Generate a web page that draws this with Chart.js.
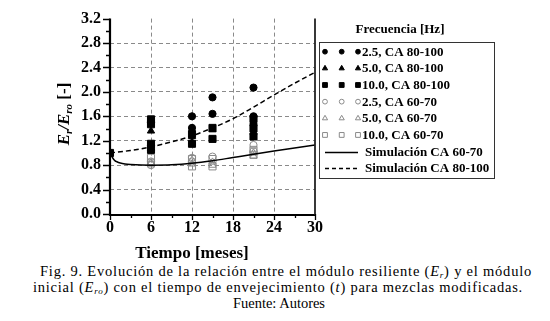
<!DOCTYPE html>
<html><head><meta charset="utf-8">
<script src="https://cdn.jsdelivr.net/npm/chart.js@4.4.0/dist/chart.umd.min.js"></script>
<style>
html,body{margin:0;padding:0;background:#fff;}
#wrap{position:relative;width:550px;height:321px;overflow:hidden;background:#fff;}
#cv{position:absolute;left:0;top:0;}
.cap{position:absolute;white-space:nowrap;font-family:"Liberation Serif",serif;font-size:14.5px;color:#000;line-height:16px;}
.sb{font-size:9px;position:relative;top:2px;}
</style></head><body>
<div id="wrap">
<canvas id="cv" width="550" height="262"></canvas>
<div class="cap" id="cap1" data-w="492" style="left:40px;top:263px;">Fig. 9. Evolución de la relación entre el módulo resiliente (<i>E</i><span class="sb"><i>r</i></span>) y el módulo</div>
<div class="cap" id="cap2" data-w="490" style="left:33px;top:279px;">inicial (<i>E</i><span class="sb"><i>ro</i></span>) con el tiempo de envejecimiento (<i>t</i>) para mezclas modificadas.</div>
<div class="cap" id="cap3" data-w="92" style="left:233px;top:295px;">Fuente: Autores</div>
</div>
<script>
// ---- DATA ----
const xTicks = [0, 6, 12, 18, 24, 30];
const yTicks = [0.0, 0.4, 0.8, 1.2, 1.6, 2.0, 2.4, 2.8, 3.2];
const seriesNames = ["2.5, CA 80-100", "5.0, CA 80-100", "10.0, CA 80-100",
                     "2.5, CA 60-70", "5.0, CA 60-70", "10.0, CA 60-70",
                     "Simulación CA 60-70", "Simulación CA 80-100"];
const f25_80100 = [[0,1.00],[6,1.50],[6,1.12],[12,1.60],[12,1.41],[15,1.91],[15,1.64],[21,2.07],[21,1.60],[21,1.46]];
const f50_80100 = [[0,1.00],[6,1.36],[6,1.08],[12,1.27],[12,1.18],[15,1.38],[21,1.52],[21,1.34]];
const f10_80100 = [[0,1.00],[6,1.55],[6,1.47],[6,1.15],[6,1.05],[12,1.31],[12,1.15],[15,1.41],[15,1.23],[21,1.56],[21,1.40],[21,1.27]];
const f25_6070 = [[6,0.86],[6,0.80],[12,0.92],[12,0.86],[15,0.94],[21,1.13],[21,1.03]];
const f50_6070 = [[6,0.84],[12,0.88],[12,0.82],[15,0.85],[15,0.80],[21,1.00],[21,0.95]];
const f10_6070 = [[6,0.92],[6,0.83],[12,0.90],[12,0.78],[15,0.90],[15,0.78],[21,1.05],[21,0.97]];
const simT6070 = [0, 0.5, 0.75, 1, 1.5, 2.2, 3, 6, 9, 12, 15, 18, 21, 24, 27, 30];
const sim6070  = [1.00, 0.90, 0.87, 0.855, 0.835, 0.82, 0.812, 0.80, 0.805, 0.83, 0.872, 0.925, 0.978, 1.03, 1.08, 1.13];
const simT80100 = [0, 3, 6, 9, 12, 15, 18, 21, 24, 27, 30];
const sim80100  = [1.00, 1.04, 1.10, 1.18, 1.28, 1.41, 1.56, 1.75, 1.95, 2.14, 2.32];

// ---- BUILD ----
const toXY = a => a.map(p => ({x: p[0], y: p[1]}));
const zip = (t, v) => t.map((x, i) => ({x, y: v[i]}));
const GRAY = '#8a8a8a';
const TR = 'rgba(0,0,0,0)';
const SERIF = '"Liberation Serif", "Times New Roman", serif';

const ptSets = [
  {d: f25_80100, style: 'circle', r: 3.6, fill: '#000', stroke: '#000'},
  {d: f50_80100, style: 'triangle', r: 4.2, fill: '#000', stroke: '#000'},
  {d: f10_80100, style: 'rect', r: 5, fill: '#000', stroke: '#000'},
  {d: f25_6070, style: 'circle', r: 3.6, fill: TR, stroke: GRAY},
  {d: f50_6070, style: 'triangle', r: 4.2, fill: TR, stroke: GRAY},
  {d: f10_6070, style: 'rect', r: 5, fill: TR, stroke: GRAY}
];
const datasets = ptSets.map((s, i) => ({
  type: 'scatter', label: seriesNames[i], data: toXY(s.d), showLine: false,
  pointStyle: s.style, pointRadius: s.r, pointHoverRadius: s.r,
  backgroundColor: s.fill, borderColor: s.stroke, pointBorderWidth: 1, order: 2
}));
datasets.push({type: 'line', label: seriesNames[6], data: zip(simT6070, sim6070),
  borderColor: '#000', borderWidth: 1.5, pointRadius: 0, cubicInterpolationMode: 'monotone', fill: false, order: 1});
datasets.push({type: 'line', label: seriesNames[7], data: zip(simT80100, sim80100),
  borderColor: '#000', borderWidth: 1.5, borderDash: [5, 3], pointRadius: 0, cubicInterpolationMode: 'monotone', fill: false, order: 1});

const near = (a, b) => Math.abs(a - b) < 1e-6;

function drawMarker(ctx, style, r, x, y) {
  if (Chart.helpers && Chart.helpers.drawPoint) {
    Chart.helpers.drawPoint(ctx, {pointStyle: style, radius: r, rotation: 0, borderWidth: 1}, x, y);
    return;
  }
  ctx.beginPath(); ctx.arc(x, y, r, 0, 2 * Math.PI); ctx.fill(); ctx.stroke();
}

const decor = {
  id: 'decor',
  afterDraw(chart) {
    const ctx = chart.ctx, a = chart.chartArea;
    const xs = chart.scales.x, ys = chart.scales.y;
    ctx.save();
    // axes
    ctx.strokeStyle = '#000'; ctx.lineWidth = 2.2; ctx.setLineDash([]);
    ctx.beginPath(); ctx.moveTo(a.left, a.top); ctx.lineTo(a.left, a.bottom + 1); ctx.lineTo(a.right, a.bottom + 1); ctx.stroke();
    ctx.lineWidth = 1.8; ctx.strokeStyle = '#222';
    ctx.beginPath(); ctx.moveTo(a.right, a.top); ctx.lineTo(a.right, a.bottom + 1); ctx.stroke();
    // ticks
    ctx.lineWidth = 1.3; ctx.strokeStyle = '#000';
    ctx.beginPath();
    for (let v = 0; v <= 3.2001; v += 0.2) {
      const y = Math.round(ys.getPixelForValue(v)) + 0.5;
      const major = Math.abs(v / 0.4 - Math.round(v / 0.4)) < 1e-6;
      ctx.moveTo(a.left - (major ? 7 : 4), y); ctx.lineTo(a.left, y);
    }
    for (let t = 0; t <= 30; t += 3) {
      const x = Math.round(xs.getPixelForValue(t)) + 0.5;
      const major = t % 6 === 0;
      ctx.moveTo(x, a.bottom); ctx.lineTo(x, a.bottom + (major ? 6 : 4));
    }
    ctx.stroke();
    // x title
    ctx.fillStyle = '#000';
    ctx.font = 'bold 17px ' + SERIF; ctx.textAlign = 'center'; ctx.textBaseline = 'middle';
    ctx.fillText('Tiempo [meses]', 192, 254);
    // y title
    const segs = [['E', 'italic bold 17px ' + SERIF, 5], ['r', 'italic bold 11px ' + SERIF, 8],
                  ['/E', 'italic bold 17px ' + SERIF, 5], ['ro', 'italic bold 11px ' + SERIF, 8],
                  [' [-]', 'bold 17px ' + SERIF, 5]];
    let tot = 0; segs.forEach(s => { ctx.font = s[1]; s.w = ctx.measureText(s[0]).width; tot += s.w; });
    ctx.save(); ctx.translate(64, 114); ctx.rotate(-Math.PI / 2);
    ctx.textAlign = 'left'; ctx.textBaseline = 'alphabetic';
    let px = -tot / 2;
    segs.forEach(s => { ctx.font = s[1]; ctx.fillText(s[0], px, s[2]); px += s.w; });
    ctx.restore();
    // legend
    const L = 319, T = 42, R = 494, B = 178;
    ctx.font = 'bold 13px ' + SERIF; ctx.textAlign = 'center'; ctx.textBaseline = 'middle';
    ctx.fillText('Frecuencia [Hz]', 400, 30);
    ctx.lineWidth = 1; ctx.strokeStyle = '#333';
    ctx.strokeRect(L + 0.5, T + 0.5, R - L, B - T);
    const rowY = i => 51.7 + i * 16.65;
    const mx = [325, 341.7, 358];
    const lr = {circle: 2.4, triangle: 3, rect: 3.4};
    ctx.textAlign = 'left';
    ptSets.forEach((s, i) => {
      const y = rowY(i);
      ctx.fillStyle = s.fill; ctx.strokeStyle = s.stroke; ctx.lineWidth = 1;
      mx.forEach(x => drawMarker(ctx, s.style, lr[s.style], x, y));
      ctx.fillStyle = '#000';
      ctx.font = 'bold 13px ' + SERIF;
      ctx.fillText(seriesNames[i], 362, y + 0.5);
    });
    [6, 7].forEach(i => {
      const y = Math.round(rowY(i)) + 0.5;
      ctx.strokeStyle = '#000'; ctx.lineWidth = 1.5;
      ctx.setLineDash(i === 7 ? [4, 3] : []);
      ctx.beginPath(); ctx.moveTo(325, y); ctx.lineTo(358, y); ctx.stroke();
      ctx.setLineDash([]);
      ctx.fillStyle = '#000'; ctx.font = 'bold 13px ' + SERIF;
      ctx.fillText(seriesNames[i], 365, y);
    });
    ctx.restore();
  }
};

// fit caption lines to reference widths via letter-spacing
document.querySelectorAll('.cap').forEach(el => {
  const target = +el.dataset.w;
  const w = el.getBoundingClientRect().width;
  const n = el.textContent.length;
  el.style.letterSpacing = ((target - w) / n).toFixed(3) + 'px';
});

Chart.defaults.font.family = SERIF;
new Chart(document.getElementById('cv'), {
  data: {datasets},
  options: {
    responsive: false, animation: false,
    layout: {padding: {left: 0, right: 235, top: 10, bottom: 0}},
    plugins: {legend: {display: false}, tooltip: {enabled: false}},
    scales: {
      x: {
        type: 'linear', min: 0, max: 30,
        afterBuildTicks: s => { s.ticks = xTicks.map(v => ({value: v})); },
        afterFit: s => { s.height = 48; },
        ticks: {color: '#000', font: {size: 16, weight: 'bold'}, padding: 4, maxRotation: 0},
        grid: {drawTicks: false, lineWidth: 1,
               color: c => (c.tick && (near(c.tick.value, 0) || near(c.tick.value, 30))) ? TR : GRAY},
        border: {display: false, dash: [4, 3]}
      },
      y: {
        type: 'linear', min: 0, max: 3.2,
        afterBuildTicks: s => { s.ticks = yTicks.map(v => ({value: v})); },
        afterFit: s => { s.width = 110; },
        ticks: {color: '#000', font: {size: 16, weight: 'bold'}, padding: 9, callback: v => Number(v).toFixed(1)},
        grid: {drawTicks: false, lineWidth: 1,
               color: c => (c.tick && (near(c.tick.value, 0) || near(c.tick.value, 3.2))) ? TR : GRAY},
        border: {display: false, dash: [4, 3]}
      }
    }
  },
  plugins: [decor]
});
</script>
</body></html>
